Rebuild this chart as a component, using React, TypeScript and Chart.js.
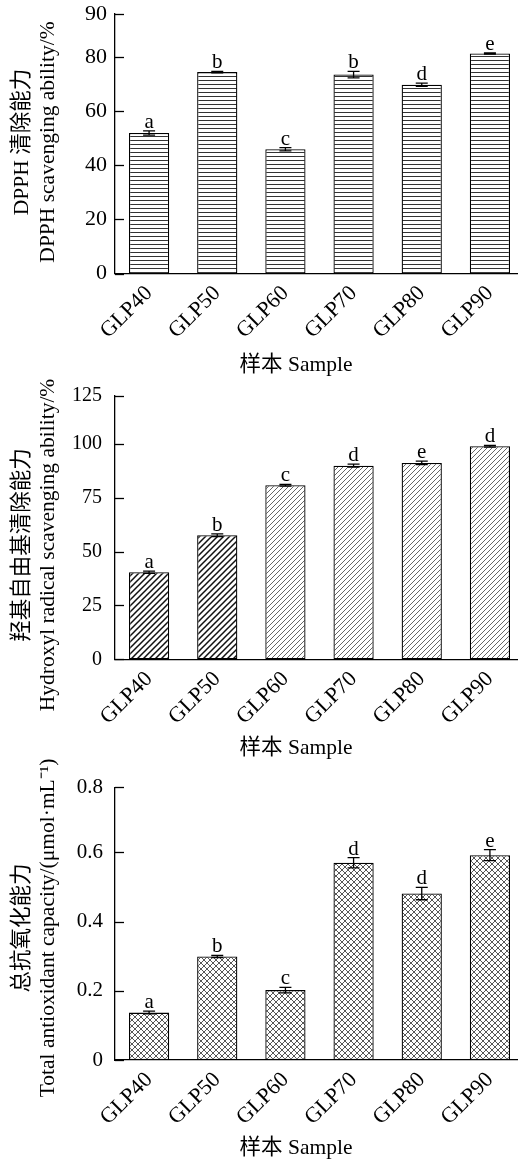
import React, { useEffect, useRef } from "react";
import { Chart, registerables } from "chart.js";

Chart.register(...registerables);

// ---------- data ----------
const categories = ["GLP40", "GLP50", "GLP60", "GLP70", "GLP80", "GLP90"];

const dpphValues = [52.0, 74.5, 46.0, 73.6, 69.8, 81.4];
const dpphErrors = [0.8, 0.3, 0.6, 1.2, 0.6, 0.2];
const dpphLetters = ["a", "b", "c", "b", "d", "e"];
const dpphTickValues = [0, 20, 40, 60, 80, 96];
const dpphTickLabels = ["0", "20", "40", "60", "80", "90"];

const hydroxylValues = [40.4, 57.6, 80.8, 89.9, 91.2, 98.9];
const hydroxylErrors = [0.5, 0.6, 0.4, 0.7, 0.8, 0.4];
const hydroxylLetters = ["a", "b", "c", "d", "e", "d"];
const hydroxylTickValues = [0, 25, 50, 75, 100, 122.4];
const hydroxylTickLabels = ["0", "25", "50", "75", "100", "125"];

const taocValues = [0.137, 0.299, 0.202, 0.57, 0.481, 0.592];
const taocErrors = [0.004, 0.003, 0.008, 0.015, 0.018, 0.016];
const taocLetters = ["a", "b", "c", "d", "d", "e"];
const taocTickValues = [0, 0.2, 0.4, 0.6, 0.788];
const taocTickLabels = ["0", "0.2", "0.4", "0.6", "0.8"];

const xTitle = "样本 Sample";
const dpphTitle = ["DPPH 清除能力", "DPPH scavenging ability/%"];
const hydroxylTitle = ["羟基自由基清除能力", "Hydroxyl radical scavenging ability/%"];
const taocTitle = ["总抗氧化能力", "Total antioxidant capacity/(μmol·mL⁻¹)"];

const FONT = '"Liberation Serif", "Times New Roman", "Noto Sans CJK SC", serif';

// ---------- patterns ----------
function makePattern(kind: string): CanvasPattern | string {
  const c = document.createElement("canvas");
  const ctx = c.getContext("2d");
  if (!ctx) return "#fff";
  if (kind === "hlines") {
    c.width = 8;
    c.height = 4;
    ctx.fillStyle = "#fff";
    ctx.fillRect(0, 0, 8, 4);
    ctx.fillStyle = "#333";
    ctx.fillRect(0, 0, 8, 1);
  } else if (kind === "diagThick" || kind === "diagThin") {
    const s = kind === "diagThick" ? 6 : 5;
    c.width = s;
    c.height = s;
    ctx.fillStyle = "#fff";
    ctx.fillRect(0, 0, s, s);
    ctx.strokeStyle = kind === "diagThick" ? "#111" : "#555";
    ctx.lineWidth = kind === "diagThick" ? 1.5 : 0.9;
    ctx.beginPath();
    ctx.moveTo(-1, s + 1);
    ctx.lineTo(s + 1, -1);
    ctx.moveTo(-1, 1);
    ctx.lineTo(1, -1);
    ctx.moveTo(s - 1, s + 1);
    ctx.lineTo(s + 1, s - 1);
    ctx.stroke();
  } else {
    const s = 6;
    c.width = s;
    c.height = s;
    ctx.fillStyle = "#fff";
    ctx.fillRect(0, 0, s, s);
    ctx.strokeStyle = "#444";
    ctx.lineWidth = 0.9;
    ctx.beginPath();
    ctx.moveTo(-1, s + 1);
    ctx.lineTo(s + 1, -1);
    ctx.moveTo(-1, 1);
    ctx.lineTo(1, -1);
    ctx.moveTo(s - 1, s + 1);
    ctx.lineTo(s + 1, s - 1);
    ctx.moveTo(-1, -1);
    ctx.lineTo(s + 1, s + 1);
    ctx.moveTo(s - 1, -1);
    ctx.lineTo(s + 1, 1);
    ctx.moveTo(-1, s - 1);
    ctx.lineTo(1, s + 1);
    ctx.stroke();
  }
  const p = ctx.createPattern(c, "repeat");
  return p || "#fff";
}

type PanelProps = {
  top: number; // page y of the canvas
  height: number;
  values: number[];
  errors: number[];
  letters: string[];
  tickValues: number[];
  tickLabels: string[];
  patternKinds: string[];
  yTitle: string[];
  topTickY: number; // page y
  zeroY: number; // page y
  yTitleCenter: number; // page y
  xTitleY: number; // page y
  tickFont: number;
  tickGap: number;
};

function BarPanel(props: PanelProps) {
  const ref = useRef<HTMLCanvasElement>(null);
  useEffect(() => {
    const canvas = ref.current;
    if (!canvas) return;
    const patterns = props.patternKinds.map((k) => makePattern(k));
    const T = props.top;

    const annotate = {
      id: "annotate",
      afterDatasetsDraw(chart: any) {
        const ctx = chart.ctx;
        const xs = chart.scales.x;
        const ys = chart.scales.y;
        ctx.save();
        ctx.strokeStyle = "#000";
        ctx.fillStyle = "#000";
        ctx.lineWidth = 1.3;
        // inward y ticks
        const ax = chart.chartArea.left;
        props.tickValues.forEach((v) => {
          const y = Math.round(ys.getPixelForValue(v)) + 0.5;
          ctx.beginPath();
          ctx.moveTo(ax, y);
          ctx.lineTo(ax + 9, y);
          ctx.stroke();
        });
        props.values.forEach((v, i) => {
          const x = xs.getPixelForValue(i);
          const yTop = ys.getPixelForValue(v + props.errors[i]);
          const yBot = ys.getPixelForValue(v - props.errors[i]);
          ctx.beginPath();
          ctx.moveTo(x, yTop);
          ctx.lineTo(x, yBot);
          ctx.moveTo(x - 6, yTop);
          ctx.lineTo(x + 6, yTop);
          ctx.moveTo(x - 6, yBot);
          ctx.lineTo(x + 6, yBot);
          ctx.stroke();
          ctx.font = `21px ${FONT}`;
          ctx.textAlign = "center";
          ctx.textBaseline = "alphabetic";
          ctx.fillText(props.letters[i], x, yTop - 3);
        });
        ctx.restore();
      },
      afterDraw(chart: any) {
        const ctx = chart.ctx;
        ctx.save();
        ctx.fillStyle = "#000";
        ctx.font = `21.5px ${FONT}`;
        ctx.textAlign = "center";
        ctx.textBaseline = "middle";
        ctx.fillText(xTitle, 296, props.xTitleY - T);
        const lineX = [22, 48];
        props.yTitle.forEach((line, k) => {
          ctx.save();
          ctx.translate(lineX[k], props.yTitleCenter - T);
          ctx.rotate(-Math.PI / 2);
          ctx.fillText(line, 0, 0);
          ctx.restore();
        });
        ctx.restore();
      },
    };

    const chart = new Chart(canvas, {
      type: "bar",
      data: {
        labels: categories,
        datasets: [
          {
            data: props.values,
            backgroundColor: patterns as any,
            borderColor: "#000",
            borderWidth: 1.3,
            borderSkipped: false,
            barPercentage: 0.59,
            categoryPercentage: 1,
          },
        ],
      },
      options: {
        responsive: false,
        animation: false,
        devicePixelRatio: 1,
        layout: { padding: { top: props.topTickY - T, left: 0, right: 0, bottom: 0 } },
        plugins: { legend: { display: false }, tooltip: { enabled: false } },
        scales: {
          x: {
            grid: { display: false, drawTicks: false },
            border: { display: true, color: "#000", width: 1.3 },
            ticks: {
              color: "#000",
              font: { family: FONT, size: 22 },
              minRotation: 45,
              maxRotation: 45,
              autoSkip: false,
              padding: 7,
            },
            afterFit: (s: any) => {
              s.height = T + props.height - props.zeroY;
              s.paddingLeft = 0;
              s.paddingRight = 0;
            },
          },
          y: {
            min: 0,
            max: props.tickValues[props.tickValues.length - 1],
            afterBuildTicks: (s: any) => {
              s.ticks = props.tickValues.map((v) => ({ value: v }));
            },
            ticks: {
              color: "#000",
              font: { family: FONT, size: props.tickFont },
              padding: props.tickGap,
              callback: (_v: any, i: number) => props.tickLabels[i],
            },
            grid: { display: false, drawTicks: false },
            border: { display: true, color: "#000", width: 1.3 },
            afterFit: (s: any) => {
              s.width = 115;
              s.paddingTop = 0;
              s.paddingBottom = 0;
            },
          },
        },
      },
      plugins: [annotate],
    } as any);
    return () => chart.destroy();
  }, []);
  return (
    <canvas
      ref={ref}
      width={524}
      height={props.height}
      style={{ display: "block", position: "absolute", left: 0, top: props.top }}
    />
  );
}

export default function App() {
  useEffect(() => {
    document.body.style.margin = "0";
  }, []);
  return (
    <div style={{ width: 518, height: 1160, position: "relative", overflow: "hidden", background: "#fff" }}>
      <BarPanel
        top={0}
        height={385}
        values={dpphValues}
        errors={dpphErrors}
        letters={dpphLetters}
        tickValues={dpphTickValues}
        tickLabels={dpphTickLabels}
        patternKinds={["hlines", "hlines", "hlines", "hlines", "hlines", "hlines"]}
        yTitle={dpphTitle}
        topTickY={14}
        zeroY={273.5}
        yTitleCenter={142}
        xTitleY={365}
        tickFont={22}
        tickGap={8}
      />
      <BarPanel
        top={370}
        height={400}
        values={hydroxylValues}
        errors={hydroxylErrors}
        letters={hydroxylLetters}
        tickValues={hydroxylTickValues}
        tickLabels={hydroxylTickLabels}
        patternKinds={["diagThick", "diagThick", "diagThin", "diagThin", "diagThin", "diagThin"]}
        yTitle={hydroxylTitle}
        topTickY={395.7}
        zeroY={659.3}
        yTitleCenter={545}
        xTitleY={748}
        tickFont={20}
        tickGap={13}
      />
      <BarPanel
        top={750}
        height={410}
        values={taocValues}
        errors={taocErrors}
        letters={taocLetters}
        tickValues={taocTickValues}
        tickLabels={taocTickLabels}
        patternKinds={["cross", "cross", "cross", "cross", "cross", "cross"]}
        yTitle={taocTitle}
        topTickY={787.3}
        zeroY={1060}
        yTitleCenter={928}
        xTitleY={1148}
        tickFont={21}
        tickGap={12}
      />
    </div>
  );
}
